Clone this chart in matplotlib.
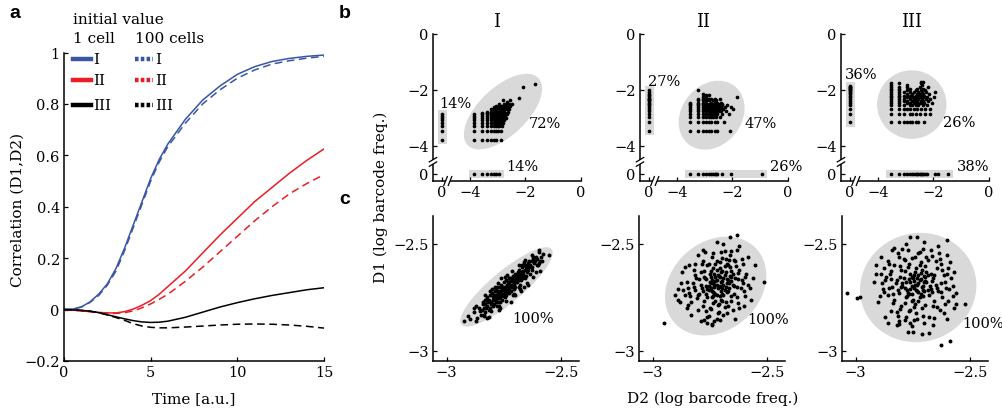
import numpy as np
import matplotlib.pyplot as plt
from matplotlib.patches import Ellipse, Rectangle
from matplotlib.lines import Line2D

plt.rcParams['font.family'] = 'DejaVu Serif'
plt.rcParams['axes.linewidth'] = 1.1

W, H = 1003, 414

# ---- a: correlation over time ----
t = [0, 0.5, 1, 1.5, 2, 2.5, 3, 3.5, 4, 4.5, 5, 5.5, 6, 7, 8, 9, 10, 11, 12, 13, 14, 15]
I_1cell = [0, 0.002, 0.01, 0.03, 0.06, 0.10, 0.16, 0.24, 0.33, 0.42, 0.51, 0.585, 0.645,
           0.74, 0.815, 0.87, 0.915, 0.945, 0.965, 0.977, 0.985, 0.99]
I_100cells = [0, 0.002, 0.01, 0.028, 0.055, 0.095, 0.15, 0.23, 0.32, 0.41, 0.50, 0.575, 0.635,
              0.725, 0.80, 0.855, 0.90, 0.932, 0.955, 0.968, 0.978, 0.985]
II_1cell = [0, -0.002, -0.005, -0.008, -0.011, -0.013, -0.013, -0.008, 0.002, 0.017, 0.035, 0.06,
            0.09, 0.15, 0.22, 0.29, 0.355, 0.42, 0.475, 0.53, 0.58, 0.625]
II_100cells = [0, -0.002, -0.005, -0.008, -0.011, -0.014, -0.015, -0.012, -0.005, 0.007, 0.022,
               0.04, 0.06, 0.11, 0.165, 0.225, 0.285, 0.345, 0.40, 0.45, 0.49, 0.525]
III_1cell = [0, -0.001, -0.003, -0.006, -0.012, -0.02, -0.028, -0.036, -0.043, -0.048, -0.05,
             -0.049, -0.045, -0.03, -0.01, 0.01, 0.027, 0.042, 0.055, 0.066, 0.077, 0.085]
III_100cells = [0, -0.001, -0.003, -0.006, -0.012, -0.021, -0.031, -0.042, -0.055, -0.064, -0.069,
                -0.071, -0.071, -0.068, -0.064, -0.06, -0.057, -0.056, -0.057, -0.06, -0.065, -0.072]
scenarios = ['I', 'II', 'III']
colors = ['#3a55a5', '#ec1c24', 'black']

# ---- b: barcode counts per scenario (D1 count -> list of D2 counts) ----
b1_rows = {1: [1, 2, 3, 4, 5, 6, 9], 2: [1, 2, 3, 4, 5, 6, 7, 9], 3: [1, 2, 3, 4, 5, 6, 7, 8, 10],
           4: [1, 2, 3, 4, 5, 6, 7, 8, 9, 11], 5: [1, 2, 3, 4, 5, 6, 7, 8, 9, 10, 12],
           6: [1, 2, 3, 4, 5, 6, 7, 8, 9, 10, 12, 14], 7: [1, 2, 3, 4, 5, 6, 7, 8, 9, 11, 13],
           8: [1, 2, 3, 4, 5, 6, 7, 8, 10, 12, 15], 9: [2, 3, 4, 5, 6, 7, 8, 9, 11, 13],
           10: [3, 4, 5, 6, 7, 8, 9, 10, 12, 16], 12: [4, 5, 6, 8, 9, 10, 11, 13, 15, 18],
           14: [5, 7, 8, 10, 12, 14, 17], 16: [6, 9, 11, 13, 16, 20], 19: [8, 12, 15, 18, 24],
           22: [15], 25: [11, 20], 30: [40], 75: [60], 100: [150]}
b1_only_d1 = [1, 2, 3, 4, 5, 6, 7, 8]
b1_only_d2 = [1, 2, 3, 4, 5, 6, 8]
b1_depth = (5900, 7080)

b2_rows = {1: [1, 2, 3, 4, 5, 6, 8, 10, 28], 2: [1, 2, 3, 4, 5, 6, 8, 10, 17],
           3: [1, 2, 3, 4, 5, 6, 7, 9, 12], 4: [1, 2, 3, 4, 5, 6, 7, 8, 10, 14, 25],
           5: [1, 2, 3, 4, 5, 6, 7, 8, 9, 11, 13, 20], 6: [1, 2, 3, 4, 5, 6, 7, 8, 10, 12, 16, 35],
           7: [1, 2, 3, 4, 5, 6, 7, 9, 11, 13, 18, 30], 8: [1, 2, 3, 4, 5, 6, 8, 10, 12, 15, 22],
           9: [1, 2, 3, 4, 5, 7, 9, 11, 14], 10: [1, 2, 3, 4, 6, 8, 10, 13],
           12: [2, 3, 4, 5, 7, 9], 14: [2, 3, 5, 6, 8, 12], 16: [3, 4, 50], 18: [4, 5],
           21: [3], 28: [2]}
b2_only_d1 = [1, 2, 3, 4, 5, 6, 7, 8, 9, 10, 11, 12, 13, 14, 15, 17, 19, 21, 24, 28]
b2_only_d2 = [1, 2, 3, 4, 5, 6, 7, 8, 9, 10, 15, 30, 400]
b2_depth = (2820, 3470)

b3_rows = {1: [1, 2, 3, 4, 5, 6, 8, 10, 16], 2: [1, 2, 3, 5, 6, 8, 11, 17, 27],
           3: [1, 2, 3, 4, 5, 7, 9, 12, 17, 25], 4: [1, 2, 3, 5, 6, 8, 10, 14, 20],
           5: [1, 2, 4, 5, 7, 9, 11, 13, 16, 30], 6: [1, 2, 3, 4, 6, 7, 9, 12, 15, 22],
           7: [1, 2, 3, 5, 7, 8, 10, 13, 18, 26], 8: [1, 2, 4, 6, 7, 9, 11, 14, 20, 35],
           9: [1, 2, 3, 5, 8, 10, 12, 16], 10: [1, 2, 4, 6, 9, 11, 15, 24],
           12: [1, 2, 3, 5, 7, 10, 13, 19, 40], 14: [1, 2, 4, 8, 12, 17], 16: [1, 2, 5, 9, 14],
           18: [1, 2, 4, 11, 22], 21: [1, 4, 13], 25: [1, 2, 12], 28: [12, 14]}
b3_only_d1 = [1, 2, 3, 4, 5, 6, 7, 8, 9, 10, 11, 12, 13, 14, 15, 16, 17, 18, 19, 20]
b3_only_d2 = [1, 2, 3, 4, 5, 6, 7, 8, 9, 10, 11, 12, 13, 15, 17, 20, 40, 50, 115]
b3_depth = (1430, 3470)

b_shares = [(14, 72, 14), (27, 47, 26), (36, 26, 38)]  # % only D1, both, only D2

# ---- c: log barcode frequencies (D2, D1) ----
c1_pts = [(-2.926, -2.859), (-2.906, -2.835), (-2.896, -2.851), (-2.822, -2.847), (-2.815, -2.843),
          (-2.860, -2.800), (-2.856, -2.812), (-2.553, -2.552), (-2.597, -2.536), (-2.576, -2.547),
          (-2.660, -2.586), (-2.88, -2.82), (-2.87, -2.79), (-2.84, -2.78), (-2.85, -2.83),
          (-2.60, -2.60), (-2.58, -2.58), (-2.62, -2.56), (-2.61, -2.63), (-2.64, -2.58),
          (-2.67, -2.60), (-2.78, -2.70), (-2.81, -2.72), (-2.70, -2.74), (-2.66, -2.70),
          (-2.76, -2.66), (-2.72, -2.77), (-2.83, -2.76), (-2.77, -2.81),
          (-2.842, -2.77), (-2.838, -2.80), (-2.845, -2.81), (-2.836, -2.83),
          (-2.828, -2.76), (-2.833, -2.78), (-2.826, -2.80), (-2.831, -2.82),
          (-2.822, -2.75), (-2.817, -2.77), (-2.824, -2.79), (-2.815, -2.81),
          (-2.808, -2.74), (-2.813, -2.76), (-2.806, -2.78), (-2.811, -2.80),
          (-2.802, -2.73), (-2.797, -2.75), (-2.804, -2.77), (-2.795, -2.79),
          (-2.788, -2.72), (-2.793, -2.74), (-2.786, -2.76), (-2.791, -2.78),
          (-2.782, -2.71), (-2.777, -2.73), (-2.784, -2.75), (-2.775, -2.77), (-2.779, -2.79),
          (-2.768, -2.70), (-2.773, -2.72), (-2.766, -2.74), (-2.771, -2.755), (-2.765, -2.77),
          (-2.762, -2.69), (-2.757, -2.71), (-2.764, -2.73), (-2.755, -2.745), (-2.759, -2.76),
          (-2.748, -2.68), (-2.753, -2.70), (-2.746, -2.72), (-2.751, -2.735), (-2.745, -2.75),
          (-2.742, -2.67), (-2.737, -2.69), (-2.744, -2.71), (-2.735, -2.725), (-2.739, -2.74),
          (-2.728, -2.66), (-2.733, -2.68), (-2.726, -2.70), (-2.731, -2.715), (-2.725, -2.73),
          (-2.722, -2.66), (-2.717, -2.67), (-2.724, -2.69), (-2.715, -2.70), (-2.719, -2.72),
          (-2.708, -2.65), (-2.713, -2.66), (-2.706, -2.68), (-2.711, -2.69), (-2.705, -2.71),
          (-2.702, -2.64), (-2.697, -2.65), (-2.704, -2.67), (-2.695, -2.68), (-2.699, -2.70),
          (-2.688, -2.63), (-2.693, -2.64), (-2.686, -2.66), (-2.691, -2.68), (-2.685, -2.70),
          (-2.682, -2.62), (-2.677, -2.64), (-2.684, -2.65), (-2.675, -2.67), (-2.679, -2.69),
          (-2.668, -2.61), (-2.673, -2.63), (-2.666, -2.65), (-2.671, -2.66),
          (-2.662, -2.60), (-2.657, -2.62), (-2.664, -2.64), (-2.655, -2.66),
          (-2.648, -2.60), (-2.653, -2.61), (-2.646, -2.63), (-2.651, -2.65),
          (-2.642, -2.59), (-2.637, -2.61), (-2.644, -2.62), (-2.635, -2.64),
          (-2.628, -2.58), (-2.633, -2.60), (-2.626, -2.62),
          (-2.622, -2.57), (-2.617, -2.59), (-2.624, -2.61),
          (-2.608, -2.56), (-2.613, -2.58), (-2.606, -2.60),
          (-2.602, -2.57), (-2.597, -2.59), (-2.588, -2.56), (-2.593, -2.58),
          (-2.88, -2.80), (-2.87, -2.86), (-2.865, -2.845), (-2.83, -2.74), (-2.835, -2.835),
          (-2.80, -2.71), (-2.805, -2.815), (-2.79, -2.70), (-2.775, -2.685), (-2.77, -2.79),
          (-2.765, -2.80), (-2.745, -2.655), (-2.74, -2.765), (-2.735, -2.645), (-2.715, -2.625),
          (-2.71, -2.74), (-2.705, -2.735), (-2.685, -2.60), (-2.68, -2.71), (-2.675, -2.72),
          (-2.655, -2.575), (-2.65, -2.685), (-2.645, -2.69), (-2.625, -2.55), (-2.62, -2.655),
          (-2.595, -2.53), (-2.59, -2.625),
          (-2.795, -2.76), (-2.785, -2.74), (-2.775, -2.735), (-2.765, -2.72), (-2.755, -2.715),
          (-2.745, -2.70), (-2.735, -2.695), (-2.725, -2.68), (-2.715, -2.675), (-2.705, -2.66),
          (-2.695, -2.655), (-2.685, -2.645), (-2.675, -2.635), (-2.665, -2.625), (-2.755, -2.74),
          (-2.745, -2.73), (-2.735, -2.71), (-2.725, -2.71), (-2.715, -2.69), (-2.705, -2.69),
          (-2.695, -2.67), (-2.685, -2.67), (-2.675, -2.66), (-2.665, -2.655), (-2.785, -2.77),
          (-2.775, -2.75), (-2.765, -2.75)]

c2_pts = [(-2.72, -2.69), (-2.70, -2.68), (-2.73, -2.70), (-2.69, -2.66), (-2.74, -2.72),
          (-2.71, -2.65), (-2.68, -2.70), (-2.75, -2.68), (-2.70, -2.72), (-2.72, -2.67),
          (-2.67, -2.67), (-2.76, -2.71), (-2.73, -2.64), (-2.69, -2.74), (-2.66, -2.65),
          (-2.74, -2.75), (-2.71, -2.70), (-2.68, -2.63), (-2.77, -2.66), (-2.70, -2.76),
          (-2.65, -2.69), (-2.73, -2.73), (-2.72, -2.62), (-2.67, -2.72), (-2.75, -2.64),
          (-2.69, -2.69), (-2.78, -2.72), (-2.66, -2.61), (-2.71, -2.78), (-2.64, -2.66),
          (-2.76, -2.75), (-2.70, -2.63), (-2.74, -2.67), (-2.68, -2.77), (-2.73, -2.69),
          (-2.65, -2.64), (-2.79, -2.69), (-2.72, -2.74), (-2.67, -2.60), (-2.63, -2.70),
          (-2.715, -2.705), (-2.695, -2.675), (-2.735, -2.685), (-2.705, -2.655), (-2.685, -2.715),
          (-2.745, -2.705), (-2.725, -2.655), (-2.675, -2.685), (-2.755, -2.695), (-2.695, -2.735),
          (-2.665, -2.705), (-2.735, -2.745), (-2.705, -2.615), (-2.655, -2.675), (-2.745, -2.625),
          (-2.685, -2.605), (-2.765, -2.735), (-2.725, -2.765), (-2.655, -2.745), (-2.775, -2.655),
          (-2.80, -2.74), (-2.82, -2.70), (-2.78, -2.79), (-2.75, -2.80), (-2.71, -2.82),
          (-2.67, -2.79), (-2.63, -2.75), (-2.61, -2.67), (-2.62, -2.62), (-2.64, -2.58),
          (-2.68, -2.57), (-2.72, -2.58), (-2.76, -2.60), (-2.79, -2.63), (-2.81, -2.66),
          (-2.84, -2.73), (-2.83, -2.77), (-2.80, -2.81), (-2.76, -2.84), (-2.72, -2.85),
          (-2.69, -2.83), (-2.65, -2.81), (-2.60, -2.72), (-2.59, -2.64), (-2.61, -2.57),
          (-2.66, -2.55), (-2.70, -2.54), (-2.74, -2.56), (-2.78, -2.58), (-2.82, -2.62),
          (-2.85, -2.68), (-2.86, -2.74), (-2.58, -2.69), (-2.63, -2.53), (-2.69, -2.50),
          (-2.77, -2.54), (-2.89, -2.71), (-2.88, -2.77), (-2.87, -2.63), (-2.90, -2.74),
          (-2.84, -2.60), (-2.83, -2.83), (-2.79, -2.86), (-2.74, -2.88), (-2.73, -2.86),
          (-2.64, -2.85), (-2.62, -2.80), (-2.57, -2.76), (-2.56, -2.66), (-2.55, -2.60),
          (-2.58, -2.56), (-2.62, -2.51), (-2.66, -2.47), (-2.63, -2.46), (-2.72, -2.49),
          (-2.80, -2.55), (-2.51, -2.68), (-2.95, -2.87), (-2.60, -2.79), (-2.85, -2.80),
          (-2.76, -2.87), (-2.74, -2.875), (-2.89, -2.76), (-2.86, -2.61), (-2.78, -2.53),
          (-2.705, -2.695), (-2.725, -2.675), (-2.695, -2.705), (-2.745, -2.685), (-2.675, -2.665),
          (-2.735, -2.725), (-2.715, -2.645), (-2.755, -2.715), (-2.685, -2.645), (-2.665, -2.685),
          (-2.725, -2.735), (-2.695, -2.625), (-2.765, -2.695), (-2.745, -2.655), (-2.705, -2.745),
          (-2.675, -2.725), (-2.655, -2.655), (-2.735, -2.615), (-2.785, -2.705), (-2.695, -2.765),
          (-2.645, -2.695), (-2.765, -2.665), (-2.715, -2.785), (-2.675, -2.595), (-2.625, -2.665),
          (-2.795, -2.735), (-2.655, -2.625), (-2.735, -2.775), (-2.705, -2.585), (-2.775, -2.765),
          (-2.645, -2.735), (-2.795, -2.665), (-2.755, -2.595), (-2.685, -2.795), (-2.625, -2.635),
          (-2.815, -2.715), (-2.745, -2.805), (-2.665, -2.575), (-2.805, -2.755), (-2.615, -2.705),
          (-2.725, -2.595), (-2.775, -2.625), (-2.655, -2.765), (-2.635, -2.605), (-2.825, -2.685),
          (-2.765, -2.815), (-2.695, -2.565), (-2.605, -2.685), (-2.835, -2.745), (-2.715, -2.825),
          (-2.645, -2.575), (-2.785, -2.595), (-2.815, -2.645), (-2.675, -2.825), (-2.595, -2.655),
          (-2.755, -2.835), (-2.625, -2.775), (-2.845, -2.705), (-2.735, -2.545), (-2.605, -2.595),
          (-2.865, -2.715), (-2.705, -2.855), (-2.575, -2.705), (-2.845, -2.785), (-2.655, -2.535),
          (-2.595, -2.745), (-2.875, -2.685), (-2.775, -2.855), (-2.685, -2.535), (-2.815, -2.595)]

c3_pts = [(-2.74, -2.69), (-2.72, -2.67), (-2.76, -2.71), (-2.71, -2.70), (-2.75, -2.66),
          (-2.73, -2.72), (-2.78, -2.68), (-2.70, -2.65), (-2.77, -2.73), (-2.69, -2.68),
          (-2.74, -2.63), (-2.72, -2.75), (-2.80, -2.70), (-2.67, -2.71), (-2.76, -2.64),
          (-2.71, -2.62), (-2.79, -2.66), (-2.68, -2.74), (-2.73, -2.66), (-2.75, -2.76),
          (-2.66, -2.66), (-2.81, -2.73), (-2.70, -2.72), (-2.77, -2.61), (-2.65, -2.69),
          (-2.72, -2.60), (-2.82, -2.67), (-2.69, -2.63), (-2.74, -2.78), (-2.78, -2.75),
          (-2.64, -2.72), (-2.80, -2.62), (-2.67, -2.64), (-2.73, -2.69), (-2.76, -2.68),
          (-2.70, -2.68), (-2.745, -2.705), (-2.725, -2.645), (-2.785, -2.705), (-2.705, -2.715),
          (-2.755, -2.655), (-2.695, -2.655), (-2.765, -2.735), (-2.715, -2.735), (-2.795, -2.685),
          (-2.675, -2.695),
          (-2.84, -2.70), (-2.85, -2.64), (-2.83, -2.76), (-2.80, -2.79), (-2.76, -2.81),
          (-2.71, -2.80), (-2.66, -2.79), (-2.62, -2.75), (-2.61, -2.68), (-2.62, -2.62),
          (-2.65, -2.58), (-2.69, -2.56), (-2.74, -2.56), (-2.79, -2.57), (-2.83, -2.60),
          (-2.87, -2.67), (-2.86, -2.74), (-2.82, -2.82), (-2.78, -2.84), (-2.73, -2.85),
          (-2.68, -2.84), (-2.63, -2.81), (-2.59, -2.71), (-2.60, -2.64), (-2.63, -2.57),
          (-2.67, -2.53), (-2.72, -2.54), (-2.77, -2.53), (-2.81, -2.56), (-2.86, -2.58),
          (-2.88, -2.71), (-2.89, -2.64), (-2.58, -2.66), (-2.61, -2.78), (-2.70, -2.87),
          (-2.76, -2.87),
          (-2.91, -2.60), (-2.91, -2.64), (-2.92, -2.68), (-2.90, -2.77), (-2.87, -2.84),
          (-2.82, -2.88), (-2.77, -2.91), (-2.71, -2.92), (-2.66, -2.88), (-2.60, -2.85),
          (-2.57, -2.80), (-2.56, -2.73), (-2.57, -2.63), (-2.60, -2.55), (-2.64, -2.51),
          (-2.70, -2.49), (-2.73, -2.47), (-2.76, -2.47), (-2.78, -2.50), (-2.84, -2.53),
          (-2.83, -2.52), (-2.89, -2.56), (-2.60, -2.48), (-3.04, -2.73), (-2.995, -2.753),
          (-2.98, -2.75), (-2.625, -2.97), (-2.585, -2.955), (-2.86, -2.87), (-2.52, -2.78),
          (-2.56, -2.78), (-2.81, -2.874), (-2.81, -2.859), (-2.75, -2.91), (-2.68, -2.918),
          (-2.725, -2.685), (-2.745, -2.675), (-2.715, -2.665), (-2.755, -2.695), (-2.735, -2.715),
          (-2.705, -2.695), (-2.765, -2.665), (-2.725, -2.725), (-2.695, -2.675), (-2.775, -2.715),
          (-2.745, -2.645), (-2.685, -2.715), (-2.755, -2.735), (-2.715, -2.635), (-2.795, -2.695),
          (-2.685, -2.645), (-2.775, -2.745), (-2.705, -2.745), (-2.805, -2.655), (-2.665, -2.675),
          (-2.735, -2.615), (-2.755, -2.765), (-2.815, -2.715), (-2.665, -2.725), (-2.785, -2.625),
          (-2.695, -2.605), (-2.725, -2.765), (-2.655, -2.645), (-2.825, -2.685), (-2.785, -2.775),
          (-2.645, -2.705), (-2.765, -2.595), (-2.695, -2.785), (-2.835, -2.735), (-2.645, -2.615),
          (-2.805, -2.605), (-2.745, -2.795), (-2.625, -2.685), (-2.845, -2.665), (-2.715, -2.585),
          (-2.805, -2.805), (-2.655, -2.765), (-2.625, -2.725), (-2.765, -2.815), (-2.845, -2.625),
          (-2.685, -2.575), (-2.855, -2.705), (-2.615, -2.645), (-2.735, -2.825), (-2.785, -2.575),
          (-2.645, -2.795), (-2.835, -2.775), (-2.755, -2.565), (-2.605, -2.705), (-2.865, -2.655),
          (-2.705, -2.835), (-2.625, -2.595), (-2.875, -2.725), (-2.815, -2.835), (-2.665, -2.555),
          (-2.595, -2.765), (-2.785, -2.855), (-2.855, -2.595), (-2.725, -2.545), (-2.595, -2.615),
          (-2.885, -2.685), (-2.655, -2.845), (-2.815, -2.545), (-2.575, -2.695), (-2.745, -2.855),
          (-2.895, -2.745), (-2.635, -2.545), (-2.845, -2.815), (-2.585, -2.585), (-2.705, -2.525),
          (-2.875, -2.615), (-2.615, -2.825), (-2.795, -2.525), (-2.575, -2.745), (-2.755, -2.885)]

ZERO = -5.0  # axis position used for barcodes absent from one sample


def px_box(l, t, r, b):
    return [l / W, 1 - b / H, (r - l) / W, (b - t) / H]


def style_axis(ax):
    ax.spines['top'].set_visible(False)
    ax.spines['right'].set_visible(False)
    ax.tick_params(direction='in', length=3, width=0.9, labelsize=10.5, pad=3)


fig = plt.figure(figsize=(W / 100, H / 100), dpi=100)

# ---- panel a ----
ax = fig.add_axes(px_box(64, 53.5, 324, 362))
curves = [(I_1cell, I_100cells), (II_1cell, II_100cells), (III_1cell, III_100cells)]
for (one, hundred), col in zip(curves, colors):
    ax.plot(t, one, color=col, lw=1.1)
    ax.plot(t, hundred, color=col, lw=1.1, ls=(0, (5, 3)))
ax.set_xlim(0, 15)
ax.set_ylim(-0.2, 1.0)
ax.set_xticks([0, 5, 10, 15])
ax.set_yticks([-0.2, 0, 0.2, 0.4, 0.6, 0.8, 1])
ax.set_yticklabels(['\u22120.2', '0', '0.2', '0.4', '0.6', '0.8', '1'])
style_axis(ax)

fig.text(73 / W, 1 - 20 / H, 'initial value', va='center', fontsize=11)
fig.text(73 / W, 1 - 39 / H, '1 cell', va='center', fontsize=11)
fig.text(135 / W, 1 - 39 / H, '100 cells', va='center', fontsize=11)
for name, col, yy in zip(scenarios, colors, [60, 81, 106]):
    fy = 1 - yy / H
    fig.add_artist(Line2D([73 / W, 91 / W], [fy, fy], color=col, lw=3.2))
    fig.add_artist(Line2D([135 / W, 153 / W], [fy, fy], color=col, lw=3.2, ls=(0, (0.8, 0.5))))
    fig.text(93 / W, fy, name, va='center', fontsize=11)
    fig.text(155 / W, fy, name, va='center', fontsize=11)

fig.text(18 / W, 1 - 210 / H, 'Correlation (D1,D2)', rotation=90, ha='center', va='center',
         fontsize=11)
fig.text(194 / W, 1 - 399 / H, 'Time [a.u.]', ha='center', va='center', fontsize=11)

# ---- panel b ----
b_data = [(b1_rows, b1_only_d1, b1_only_d2, b1_depth),
          (b2_rows, b2_only_d1, b2_only_d2, b2_depth),
          (b3_rows, b3_only_d1, b3_only_d2, b3_depth)]
b_lefts = [433, 640, 841]
b_ellipses = [((-2.81, -2.77), 3.5, 1.73, 43), ((-2.75, -2.90), 2.66, 2.15, 50),
              ((-2.78, -2.52), 2.5, 2.45, 0)]
b_text_pos = [[(-4.54, -2.46), (-1.30, -3.18), (-2.10, -4.73)],
              [(-4.46, -1.69), (-1.00, -3.19), (-0.05, -4.70)],
              [(-4.60, -1.43), (-1.06, -3.15), (-0.58, -4.73)]]
gray = '#d9d9d9'

for i, (rows, only1, only2, (n1, n2)) in enumerate(b_data):
    left = b_lefts[i]
    ax = fig.add_axes(px_box(left, 35, left + 148, 182))
    xs, ys = [], []
    for k1, k2s in rows.items():
        for k2 in k2s:
            xs.append(np.log10(k2 / n2))
            ys.append(np.log10(k1 / n1))
    y_only = np.log10(np.array(only1) / n1)
    x_only = np.log10(np.array(only2) / n2)

    (cx, cy), ew, eh, ang = b_ellipses[i]
    ax.add_patch(Ellipse((cx, cy), ew, eh, angle=ang, fc=gray, ec='none', zorder=0))
    ax.add_patch(Rectangle((ZERO - 0.16, y_only.min() - 0.15), 0.32,
                           y_only.max() - y_only.min() + 0.3, fc=gray, ec='none', zorder=0))
    ax.add_patch(Rectangle((x_only.min() - 0.17, ZERO - 0.14), x_only.max() - x_only.min() + 0.34,
                           0.28, fc=gray, ec='none', zorder=0))

    ax.scatter(xs, ys, s=7, c='black', lw=0, zorder=2)
    ax.scatter(np.full(len(y_only), ZERO), y_only, s=7, c='black', lw=0, zorder=2)
    ax.scatter(x_only, np.full(len(x_only), ZERO), s=7, c='black', lw=0, zorder=2)

    ax.set_xlim(-5.33, 0)
    ax.set_ylim(-5.25, 0)
    ax.set_xticks([ZERO, -4, -2, 0])
    ax.set_xticklabels(['0', '\u22124', '\u22122', '0'])
    ax.set_yticks([ZERO, -4, -2, 0])
    ax.set_yticklabels(['0', '\u22124', '\u22122', '0'])
    style_axis(ax)

    # axis breaks between the zero position and the log scale
    for yb in (0.115, 0.145):
        ax.plot([-0.025, 0.025], [yb - 0.015, yb + 0.015], transform=ax.transAxes,
                color='black', lw=0.9, clip_on=False, zorder=5)
    ax.add_patch(Rectangle((-0.02, 0.118), 0.04, 0.024, transform=ax.transAxes,
                           fc='white', ec='none', clip_on=False, zorder=4))
    for xb in (0.085, 0.115):
        ax.plot([xb - 0.012, xb + 0.012], [-0.03, 0.03], transform=ax.transAxes,
                color='black', lw=0.9, clip_on=False, zorder=5)
    ax.add_patch(Rectangle((0.088, -0.02), 0.024, 0.04, transform=ax.transAxes,
                           fc='white', ec='none', clip_on=False, zorder=4))

    for (tx, ty), share in zip(b_text_pos[i], b_shares[i]):
        ax.text(tx, ty, f'{share}%', ha='center', va='center', fontsize=10.5, clip_on=False)

for name, xc in zip(scenarios, [497, 703, 912]):
    fig.text(xc / W, 1 - 22 / H, name, ha='center', va='center', fontsize=13)

# ---- panel c ----
c_sets = [c1_pts, c2_pts, c3_pts]
c_lefts = [433, 639, 842]
c_ellipses = [((-2.738, -2.701), 0.53, 0.145, 42), ((-2.724, -2.697), 0.50, 0.40, 50),
              ((-2.726, -2.704), 0.52, 0.50, 45)]
c_text_pos = [(-2.623, -2.847), (-2.495, -2.851), (-2.442, -2.869)]
c_share = 100

for i, pts in enumerate(c_sets):
    left = c_lefts[i]
    ax = fig.add_axes(px_box(left, 217, left + 146, 362))
    p = np.array(pts)
    (cx, cy), ew, eh, ang = c_ellipses[i]
    ax.add_patch(Ellipse((cx, cy), ew, eh, angle=ang, fc=gray, ec='none', zorder=0))
    ax.scatter(p[:, 0], p[:, 1], s=8, c='black', lw=0, zorder=2)
    ax.set_xlim(-3.06, -2.42)
    ax.set_ylim(-3.047, -2.37)
    ax.set_xticks([-3, -2.5])
    ax.set_xticklabels(['\u22123', '\u22122.5'])
    ax.set_yticks([-3, -2.5])
    ax.set_yticklabels(['\u22123', '\u22122.5'])
    style_axis(ax)
    tx, ty = c_text_pos[i]
    ax.text(tx, ty, f'{c_share}%', ha='center', va='center', fontsize=10.5, clip_on=False)

fig.text(381 / W, 1 - 197 / H, 'D1 (log barcode freq.)', rotation=90, ha='center', va='center',
         fontsize=11)
fig.text(713 / W, 1 - 399 / H, 'D2 (log barcode freq.)', ha='center', va='center', fontsize=11)

# panel letters
for letter, (px, py) in zip('abc', [(15, 14), (345, 14), (345, 200)]):
    fig.text(px / W, 1 - py / H, letter, ha='center', va='center', fontsize=14,
             fontweight='bold', family='Liberation Sans')

fig.savefig('out.png', dpi=100)
